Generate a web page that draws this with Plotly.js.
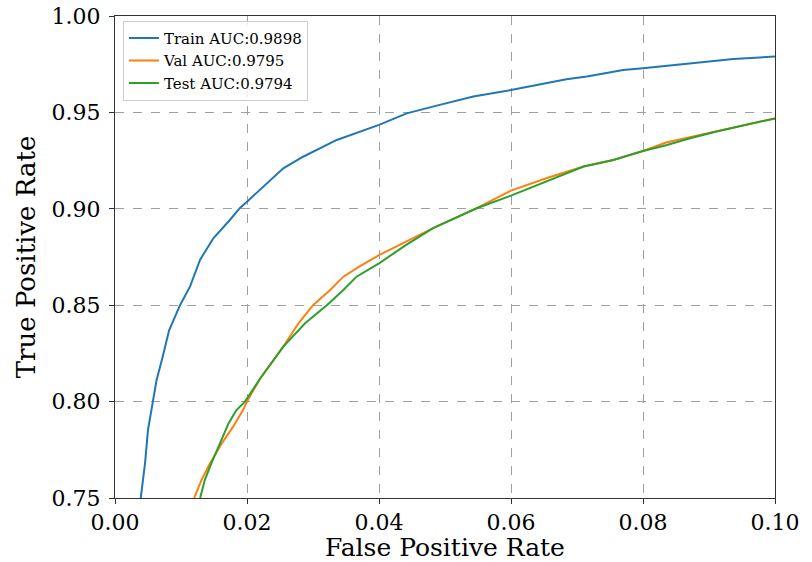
<!DOCTYPE html>
<html>
<head>
<meta charset="utf-8">
<script src="https://cdn.plot.ly/plotly-3.0.1.min.js"></script>
<style>html,body{margin:0;padding:0;background:#fff;}#chart{width:812px;height:562px;}</style>
</head>
<body>
<div id="chart"></div>
<script>
const trainName = "Train AUC:0.9898";
const valName = "Val AUC:0.9795";
const testName = "Test AUC:0.9794";

const trainX = [0.0039, 0.00455, 0.0050, 0.0058, 0.0063, 0.0071, 0.0082, 0.00985, 0.01136, 0.01288, 0.0149, 0.0174, 0.0189, 0.0200, 0.0220, 0.0237, 0.0255, 0.0285, 0.0336, 0.0400, 0.0442, 0.0492, 0.0543, 0.0600, 0.0684, 0.0715, 0.0770, 0.0800, 0.0861, 0.0937, 0.1000];
const trainY = [0.750, 0.768, 0.7853, 0.800, 0.8112, 0.8216, 0.837, 0.850, 0.8596, 0.8735, 0.8847, 0.8942, 0.9003, 0.9037, 0.910, 0.915, 0.921, 0.927, 0.9357, 0.9435, 0.9495, 0.9539, 0.9582, 0.9616, 0.9672, 0.9686, 0.972, 0.9729, 0.9751, 0.9777, 0.9790];

const valX = [0.0120, 0.0131, 0.0144, 0.0162, 0.0179, 0.0194, 0.0200, 0.0220, 0.0255, 0.0278, 0.0300, 0.0326, 0.0346, 0.0370, 0.0400, 0.0440, 0.0482, 0.0548, 0.0600, 0.0659, 0.0710, 0.0755, 0.0800, 0.0835, 0.0870, 0.0910, 0.0955, 0.1000];
const valY = [0.750, 0.7593, 0.768, 0.7784, 0.787, 0.7956, 0.800, 0.812, 0.8285, 0.8406, 0.850, 0.8579, 0.8648, 0.870, 0.876, 0.883, 0.890, 0.9003, 0.9094, 0.9165, 0.9219, 0.9253, 0.930, 0.9344, 0.937, 0.940, 0.9435, 0.9469];

const testX = [0.0129, 0.0136, 0.0146, 0.0159, 0.0172, 0.0184, 0.0197, 0.0220, 0.0255, 0.0288, 0.0321, 0.0346, 0.0366, 0.0400, 0.0440, 0.0482, 0.0548, 0.0600, 0.0659, 0.0710, 0.0755, 0.0800, 0.0835, 0.0870, 0.0910, 0.0955, 0.1000];
const testY = [0.750, 0.7593, 0.768, 0.7784, 0.7887, 0.7956, 0.800, 0.812, 0.8285, 0.8406, 0.850, 0.8579, 0.8648, 0.8717, 0.881, 0.890, 0.9003, 0.9068, 0.915, 0.9219, 0.9253, 0.930, 0.933, 0.9365, 0.940, 0.9435, 0.9469];

const xTicks = [0.00, 0.02, 0.04, 0.06, 0.08, 0.10];
const yTicks = [0.75, 0.80, 0.85, 0.90, 0.95, 1.00];

const serif = "DejaVu Serif, serif";

const traces = [
  {x: trainX, y: trainY, name: trainName, mode: "lines", line: {color: "#1f77b4", width: 2}},
  {x: valX, y: valY, name: valName, mode: "lines", line: {color: "#ff7f0e", width: 2}},
  {x: testX, y: testY, name: testName, mode: "lines", line: {color: "#2ca02c", width: 2}}
];

const axisCommon = {
  showline: true, mirror: true, linecolor: "#333", linewidth: 1,
  ticks: "outside", ticklen: 5, tickwidth: 1, tickcolor: "#333",
  showgrid: true, gridcolor: "#a0a0a0", gridwidth: 1, griddash: "dash",
  zeroline: false,
  tickfont: {family: serif, size: 22, color: "#000"}
};

const layout = {
  width: 812, height: 562,
  margin: {l: 115, r: 37, t: 16, b: 64},
  paper_bgcolor: "#fff", plot_bgcolor: "#fff",
  showlegend: true,
  legend: {
    x: 0.012, y: 0.99, xanchor: "left", yanchor: "top",
    bgcolor: "rgba(255,255,255,0.8)", bordercolor: "#ccc", borderwidth: 1,
    font: {family: serif, size: 15, color: "#000"},
    itemwidth: 30, tracegroupgap: 0
  },
  xaxis: Object.assign({}, axisCommon, {
    range: [0, 0.10], tickvals: xTicks, tickformat: ".2f",
    title: {text: "False Positive Rate", font: {family: serif, size: 25, color: "#000"}, standoff: 9}
  }),
  yaxis: Object.assign({}, axisCommon, {
    range: [0.75, 1.00], tickvals: yTicks, tickformat: ".2f", ticklabelstandoff: 4,
    title: {text: "True Positive Rate", font: {family: serif, size: 26, color: "#000"}, standoff: 8}
  })
};

Plotly.newPlot("chart", traces, layout, {staticPlot: true, displayModeBar: false});
</script>
</body>
</html>
